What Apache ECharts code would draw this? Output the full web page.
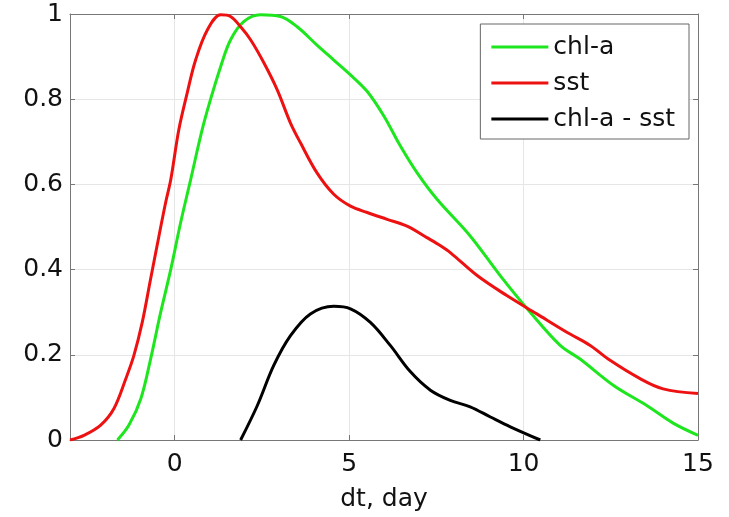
<!DOCTYPE html>
<html>
<head>
<meta charset="utf-8">
<script src="https://cdn.jsdelivr.net/npm/echarts@6/dist/echarts.min.js"></script>
<style>
  html, body { margin: 0; padding: 0; background: #fff; }
  #main { width: 729px; height: 517px; }
</style>
</head>
<body>
<div id="main"></div>
<script>
// values
var chlX = [-1.64, -1.31, -0.97, -0.69, -0.40, -0.11, 0.17, 0.46, 0.79, 1.03, 1.32, 1.6, 1.98, 2.46, 3.03, 3.51, 4.08, 4.56, 5.04, 5.52, 6.0, 6.47, 6.95, 7.52, 8.47, 9.33, 10.19, 11.05, 11.62, 12.58, 13.53, 14.3, 15];
var chlY = [0, 0.035, 0.097, 0.19, 0.30, 0.401, 0.51, 0.612, 0.729, 0.80, 0.877, 0.939, 0.982, 0.998, 0.994, 0.97, 0.927, 0.892, 0.857, 0.818, 0.76, 0.69, 0.627, 0.565, 0.479, 0.386, 0.30, 0.222, 0.19, 0.128, 0.081, 0.039, 0.011];

var sstX = [-3, -2.6, -2.12, -1.74, -1.40, -1.17, -0.93, -0.69, -0.45, -0.26, -0.11, 0.12, 0.36, 0.6, 0.94, 1.32, 1.6, 1.89, 2.18, 2.56, 2.94, 3.32, 3.61, 4.08, 4.56, 5.04, 5.52, 6.09, 6.66, 7.23, 7.62, 7.9, 8.67, 9.52, 10.38, 11.24, 11.91, 12.48, 13.34, 14.0, 15];
var sstY = [0, 0.011, 0.035, 0.074, 0.144, 0.198, 0.276, 0.378, 0.479, 0.557, 0.612, 0.729, 0.815, 0.892, 0.963, 0.998, 0.994, 0.97, 0.939, 0.885, 0.822, 0.744, 0.697, 0.627, 0.577, 0.549, 0.534, 0.518, 0.502, 0.475, 0.456, 0.44, 0.386, 0.339, 0.296, 0.253, 0.222, 0.187, 0.144, 0.12, 0.109];

var diffX = [1.89, 2.37, 2.84, 3.32, 3.89, 4.56, 5.04, 5.61, 6.18, 6.76, 7.33, 7.9, 8.47, 9.05, 9.62, 10.48];
var diffY = [0, 0.081, 0.175, 0.245, 0.296, 0.314, 0.308, 0.276, 0.222, 0.16, 0.117, 0.093, 0.078, 0.054, 0.031, 0];

var xTicks = [0, 5, 10, 15];
var names = ['chl-a', 'sst', 'chl-a - sst'];
var colors = ['#1ee61e', '#ee1111', '#000000'];

function zip(xs, ys) {
    return xs.map(function (x, i) { return [x, ys[i]]; });
}

var font = 'DejaVu Sans, sans-serif';
var axisCol = '#777';

var chart = echarts.init(document.getElementById('main'));

var lineSeries = [zip(chlX, chlY), zip(sstX, sstY), zip(diffX, diffY)].map(function (d, i) {
    return {
        name: names[i],
        type: 'line',
        data: d,
        xAxisIndex: 0,
        yAxisIndex: 0,
        showSymbol: false,
        smooth: 0.35,
        lineStyle: { color: colors[i], width: 3 },
        itemStyle: { color: colors[i] }
    };
});

chart.setOption({
    animation: false,
    backgroundColor: '#fff',
    grid: { left: 70, top: 14, right: 31, bottom: 75.5 },
    legend: {
        orient: 'vertical',
        right: 40,
        top: 24,
        data: names,
        icon: 'rect',
        itemWidth: 57,
        itemHeight: 3,
        itemGap: 6,
        padding: [8, 14, 5, 11],
        backgroundColor: '#fff',
        borderColor: '#666',
        borderWidth: 1,
        textStyle: { fontFamily: font, fontSize: 25, lineHeight: 30, color: '#111' }
    },
    xAxis: [{
        type: 'value',
        min: -3,
        max: 15,
        name: 'dt, day',
        nameLocation: 'middle',
        nameGap: 47,
        nameTextStyle: { fontFamily: font, fontSize: 25, color: '#111' },
        axisLine: { show: true, onZero: false, lineStyle: { color: axisCol, width: 1 } },
        axisTick: { show: true, inside: true, length: 5, customValues: xTicks, lineStyle: { color: axisCol } },
        axisLabel: { fontFamily: font, fontSize: 25, color: '#111', margin: 12, customValues: xTicks },
        splitLine: { show: true, lineStyle: { color: '#e6e6e6', width: 1 } }
    }, {
        type: 'value',
        position: 'top',
        min: -3,
        max: 15,
        axisLine: { show: true, onZero: false, lineStyle: { color: axisCol, width: 1 } },
        axisTick: { show: true, inside: true, length: 5, customValues: xTicks, lineStyle: { color: axisCol } },
        axisLabel: { show: false, customValues: xTicks },
        splitLine: { show: false }
    }],
    yAxis: [{
        type: 'value',
        min: 0,
        max: 1,
        interval: 0.2,
        axisLine: { show: true, onZero: false, lineStyle: { color: axisCol, width: 1 } },
        axisTick: { show: true, inside: true, length: 5, lineStyle: { color: axisCol } },
        axisLabel: { fontFamily: font, fontSize: 25, color: '#111', margin: 7 },
        splitLine: { show: true, lineStyle: { color: '#e6e6e6', width: 1 } }
    }, {
        type: 'value',
        position: 'right',
        min: 0,
        max: 1,
        interval: 0.2,
        axisLine: { show: true, onZero: false, lineStyle: { color: axisCol, width: 1 } },
        axisTick: { show: true, inside: true, length: 5, lineStyle: { color: axisCol } },
        axisLabel: { show: false },
        splitLine: { show: false }
    }],
    series: lineSeries
});
</script>
</body>
</html>
